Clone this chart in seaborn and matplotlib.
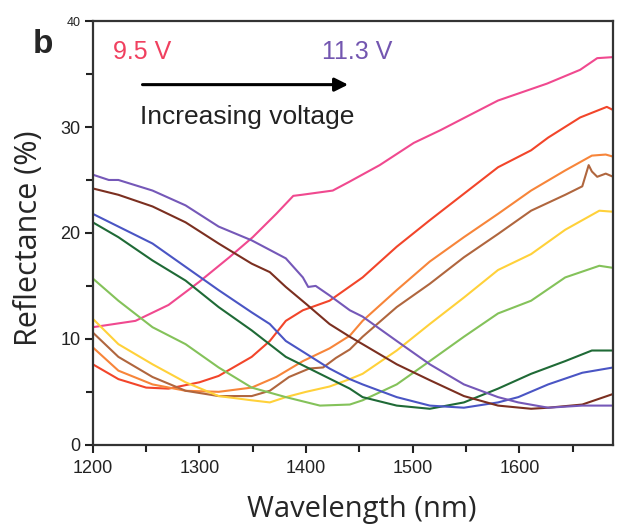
import numpy as np
import pandas as pd
import matplotlib
matplotlib.use("Agg")
import matplotlib.pyplot as plt
import seaborn as sns

# Spectres de réflectance, tension croissante de 9.5 V à 11.3 V
wl_1 = [1200, 1240, 1271, 1300, 1328, 1350, 1372, 1388, 1396, 1425, 1440, 1469, 1501, 1526, 1551, 1580, 1626, 1657, 1673, 1688]
r_1 = [11.1, 11.7, 13.2, 15.4, 17.7, 19.6, 21.8, 23.5, 23.6, 24.0, 24.8, 26.4, 28.5, 29.7, 31.0, 32.5, 34.1, 35.4, 36.5, 36.6]

wl_2 = [1200, 1224, 1250, 1271, 1300, 1318, 1349, 1366, 1381, 1397, 1422, 1453, 1485, 1516, 1548, 1580, 1611, 1627, 1657, 1682, 1688]
r_2 = [7.6, 6.2, 5.4, 5.3, 5.9, 6.5, 8.3, 9.8, 11.7, 12.7, 13.6, 15.8, 18.7, 21.2, 23.7, 26.2, 27.8, 29.0, 30.9, 31.9, 31.6]

wl_3 = [1200, 1224, 1256, 1287, 1318, 1349, 1372, 1397, 1422, 1441, 1453, 1485, 1516, 1548, 1580, 1611, 1643, 1668, 1681, 1688]
r_3 = [9.2, 7.0, 5.7, 5.1, 5.0, 5.4, 6.4, 7.9, 9.1, 10.3, 11.7, 14.6, 17.3, 19.6, 21.8, 24.0, 25.9, 27.3, 27.4, 27.2]

wl_4 = [1200, 1224, 1256, 1287, 1318, 1349, 1366, 1384, 1403, 1416, 1428, 1441, 1453, 1485, 1516, 1548, 1580, 1611, 1643, 1659, 1665, 1668, 1673, 1681, 1688]
r_4 = [10.6, 8.3, 6.4, 5.1, 4.6, 4.6, 5.1, 6.4, 7.2, 7.3, 8.2, 9.0, 10.2, 13.0, 15.2, 17.7, 19.9, 22.1, 23.6, 24.4, 26.4, 25.8, 25.3, 25.6, 25.3]

wl_5 = [1200, 1224, 1256, 1287, 1318, 1349, 1366, 1381, 1400, 1422, 1441, 1453, 1485, 1516, 1548, 1580, 1611, 1643, 1675, 1688]
r_5 = [11.9, 9.5, 7.6, 5.9, 4.6, 4.2, 4.0, 4.5, 5.0, 5.5, 6.2, 6.7, 8.9, 11.4, 13.9, 16.5, 18.0, 20.3, 22.1, 22.0]

wl_6 = [1200, 1224, 1256, 1287, 1318, 1349, 1381, 1413, 1441, 1453, 1485, 1516, 1548, 1580, 1611, 1643, 1675, 1688]
r_6 = [15.7, 13.6, 11.1, 9.5, 7.3, 5.4, 4.5, 3.7, 3.8, 4.2, 5.7, 7.9, 10.2, 12.4, 13.6, 15.8, 16.9, 16.7]

wl_7 = [1200, 1224, 1256, 1287, 1318, 1349, 1381, 1413, 1441, 1453, 1485, 1516, 1548, 1580, 1611, 1643, 1668, 1688]
r_7 = [21.0, 19.6, 17.4, 15.5, 13.0, 10.8, 8.3, 6.7, 5.3, 4.5, 3.7, 3.4, 4.0, 5.3, 6.7, 7.9, 8.9, 8.9]

wl_8 = [1200, 1224, 1256, 1287, 1318, 1349, 1366, 1381, 1400, 1422, 1441, 1453, 1485, 1516, 1548, 1580, 1599, 1627, 1659, 1688]
r_8 = [21.8, 20.6, 19.0, 16.8, 14.6, 12.5, 11.4, 9.8, 8.6, 7.2, 6.2, 5.7, 4.5, 3.7, 3.5, 4.0, 4.5, 5.7, 6.8, 7.3]

wl_9 = [1200, 1224, 1256, 1287, 1318, 1349, 1366, 1381, 1400, 1422, 1441, 1453, 1485, 1516, 1548, 1580, 1611, 1627, 1659, 1688]
r_9 = [24.2, 23.6, 22.5, 21.0, 19.0, 17.1, 16.3, 14.9, 13.3, 11.4, 10.2, 9.5, 7.6, 6.1, 4.6, 3.7, 3.4, 3.5, 3.8, 4.8]

wl_10 = [1200, 1215, 1224, 1256, 1287, 1318, 1349, 1381, 1397, 1402, 1409, 1422, 1441, 1453, 1485, 1516, 1548, 1580, 1599, 1627, 1659, 1688]
r_10 = [25.5, 25.0, 25.0, 24.0, 22.6, 20.6, 19.3, 17.6, 15.8, 14.9, 15.0, 14.1, 12.7, 12.1, 9.8, 7.6, 5.7, 4.5, 4.0, 3.5, 3.7, 3.7]

courbes = ["c1", "c2", "c3", "c4", "c5", "c6", "c7", "c8", "c9", "c10"]
couleurs = ["#f0498f", "#f2452a", "#f7853a", "#b0663e", "#ffd13a",
            "#84c25a", "#1f6a36", "#4a55c4", "#7b2f20", "#7558b8"]

liste_wl = [wl_1, wl_2, wl_3, wl_4, wl_5, wl_6, wl_7, wl_8, wl_9, wl_10]
liste_r = [r_1, r_2, r_3, r_4, r_5, r_6, r_7, r_8, r_9, r_10]

# On construit un DataFrame long pour seaborn
morceaux = []
for nom, wl, r in zip(courbes, liste_wl, liste_r):
    morceaux.append(pd.DataFrame({"wavelength": wl, "reflectance": r, "courbe": nom}))
df = pd.concat(morceaux, ignore_index=True)

sns.set_theme(style="ticks")
plt.rcParams['font.family'] = ['Liberation Sans', 'DejaVu Sans']

fig = plt.figure(figsize=(6.27, 5.27), dpi=100)
ax = fig.add_axes([0.148, 0.156, 0.830, 0.804])

sns.lineplot(data=df, x="wavelength", y="reflectance", hue="courbe",
             palette=couleurs, estimator=None, sort=True, linewidth=1.5,
             legend=False, ax=ax)

ax.set_xlim(1200, 1688)
ax.set_ylim(0, 40)
ax.set_xticks([1200, 1300, 1400, 1500, 1600])
ax.set_xticks([1250, 1350, 1450, 1550, 1650], minor=True)
ax.set_yticks([0, 10, 20, 30, 40])
ax.set_yticks([5, 15, 25, 35], minor=True)
ax.tick_params(which="major", direction="out", length=6, width=1.5, colors="#222222", labelsize=13)
ax.tick_params(which="minor", direction="out", length=5, width=1.5, colors="#222222")
ax.tick_params(axis="y", which="major", labelsize=13, pad=3)
ax.tick_params(axis="x", which="major", pad=5)
for sp in ax.spines.values():
    sp.set_linewidth(1.6)
    sp.set_color("#333333")
    sp.set_visible(True)

# le "40" est plus petit et un peu surélevé sur l'original
lab40 = ax.get_yticklabels()[-1]
lab40.set_fontsize(9)
lab40.set_y(41)

ax.set_xlabel("Wavelength (nm)", family=["Open Sans", "DejaVu Sans"], fontsize=21)
ax.xaxis.set_label_coords(0.517, -0.118)
ax.set_ylabel("Reflectance (%)", family=["Open Sans", "DejaVu Sans"], fontsize=22)
ax.yaxis.set_label_coords(-0.094, 0.488)

# annotations
ax.text(1219, 37.1, "9.5 V", color="#f0405f", fontsize=18, va="center", ha="left")
ax.text(1415, 37.1, "11.3 V", color="#7356b0", fontsize=18, va="center", ha="left")
ax.annotate("", xy=(1442, 34.0), xytext=(1244, 34.0),
            arrowprops=dict(arrowstyle="-|>", color="black", lw=2.2, mutation_scale=20))
ax.text(1244, 30.9, "Increasing voltage", color="#222222", fontsize=19, va="center", ha="left")
fig.text(0.052, 0.915, "b", fontsize=24, fontweight="bold", ha="left", va="center")

fig.savefig("out.png", dpi=100)
